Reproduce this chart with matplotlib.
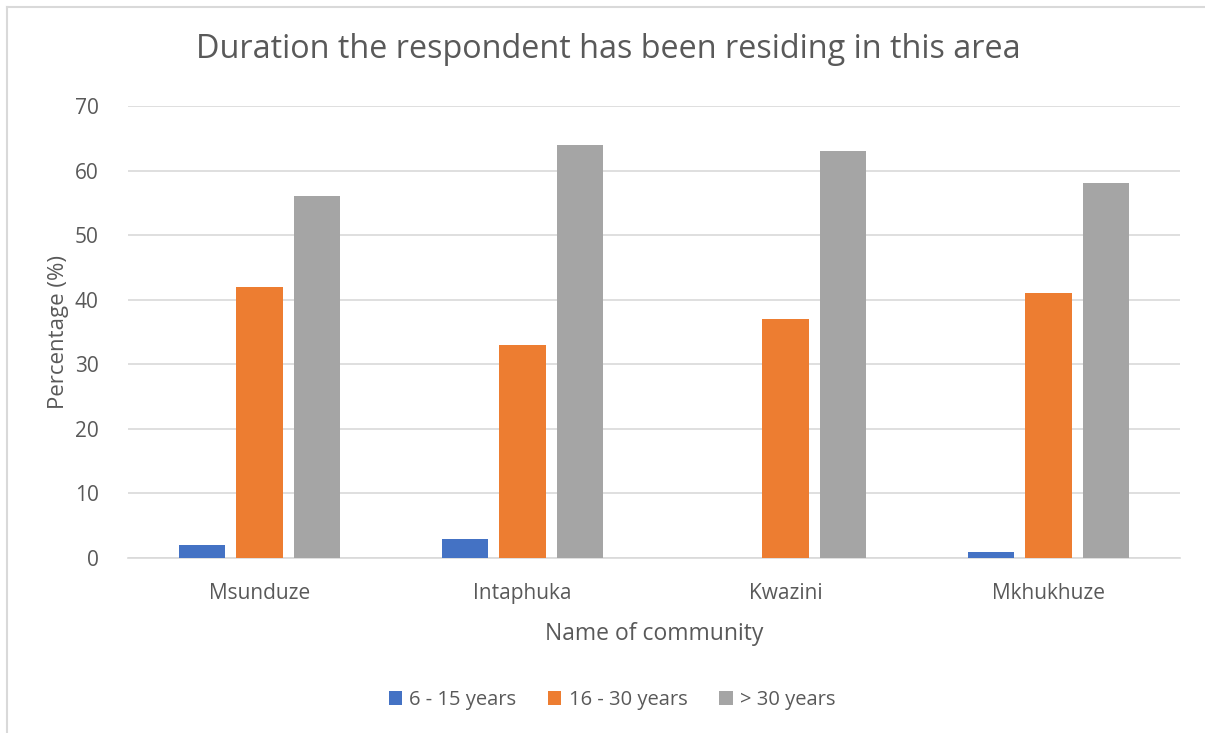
import numpy as np
import matplotlib.pyplot as plt
from matplotlib.lines import Line2D

plt.rcParams['font.family'] = ['Open Sans', 'DejaVu Sans']

communities = ['Msunduze', 'Intaphuka', 'Kwazini', 'Mkhukhuze']
series_names = ['6 - 15 years', '16 - 30 years', '> 30 years']
yrs_6_15 = [2, 3, 0, 1]
yrs_16_30 = [42, 33, 37, 41]
yrs_30_plus = [56, 64, 63, 58]
colors = ['#4472C4', '#ED7D31', '#A5A5A5']

W, H = 1205, 733
fig = plt.figure(figsize=(W / 100, H / 100), dpi=100)
ax = fig.add_axes([128 / W, 1 - 558 / H, (1180 - 128) / W, (558 - 106) / H])

x = np.arange(len(communities))
width = 0.175
offset = 0.22
for i, (vals, name) in enumerate(zip([yrs_6_15, yrs_16_30, yrs_30_plus], series_names)):
    ax.bar(x + (i - 1) * offset, vals, width, color=colors[i], label=name, zorder=3)

ax.set_xlim(-0.5, len(communities) - 0.5)
ax.set_ylim(0, 70)
ax.set_yticks(range(0, 71, 10))
ax.yaxis.grid(True, color='#D9D9D9', linewidth=1.2, zorder=0)
for s in ['top', 'right', 'left']:
    ax.spines[s].set_visible(False)
ax.spines['bottom'].set_color('#D9D9D9')
ax.spines['bottom'].set_linewidth(1.2)
ax.tick_params(axis='both', length=0, colors='#595959', labelsize=15)
ax.tick_params(axis='y', pad=21)
ax.tick_params(axis='x', pad=18)
ax.set_xticks(x)
ax.set_xticklabels(communities)

ax.set_ylabel('Percentage (%)', fontsize=16, color='#595959', labelpad=4)
ax.set_xlabel('Name of community', fontsize=16.5, color='#595959', labelpad=13)

fig.text(608 / W, 1 - 50 / H, 'Duration the respondent has been residing in this area',
         ha='center', va='center', fontsize=23.3, color='#595959')

leg = fig.legend(loc='center', bbox_to_anchor=(612 / W, 1 - 700 / H), ncol=3, frameon=False,
                 fontsize=14.5, handlelength=0.65, handleheight=0.65, handletextpad=0.35,
                 columnspacing=1.6)
for t in leg.get_texts():
    t.set_color('#595959')

# chart border (left and top visible)
fig.add_artist(Line2D([7 / W, 7 / W], [0, 1 - 7 / H], color='#D9D9D9', linewidth=1.5))
fig.add_artist(Line2D([7 / W, 1], [1 - 7 / H, 1 - 7 / H], color='#D9D9D9', linewidth=1.5))

fig.savefig('out.png', dpi=100, facecolor='white')
